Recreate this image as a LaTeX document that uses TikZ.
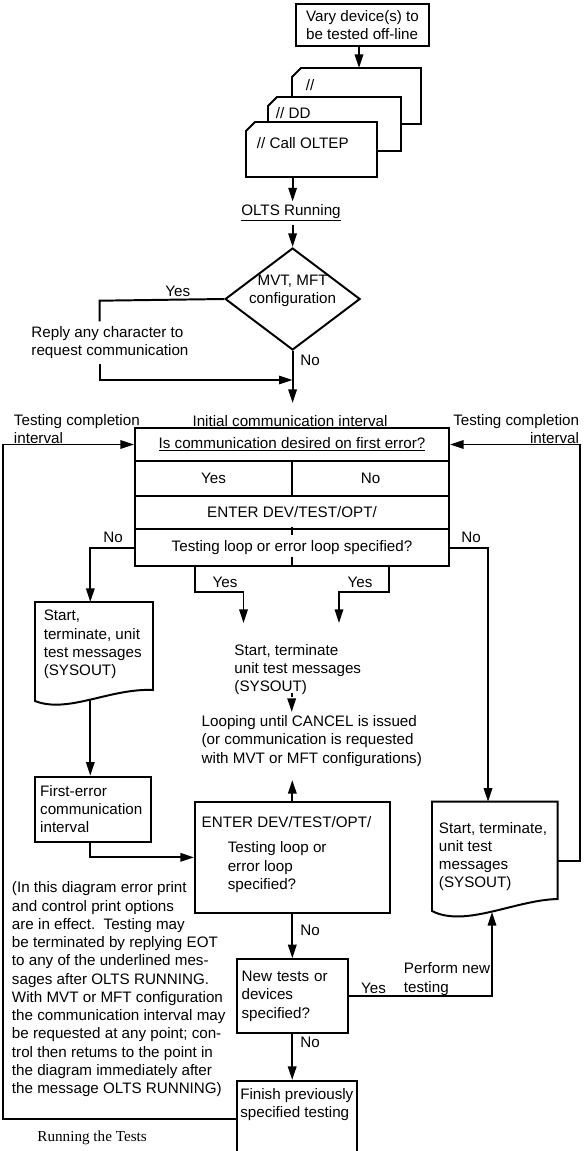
\documentclass[tikz,border=0pt]{standalone}
\usepackage{fontspec}
\setmainfont{Liberation Sans}
\newfontfamily\captionserif{Liberation Serif}
\usetikzlibrary{arrows.meta,shapes.geometric}

\begin{document}
\begin{tikzpicture}[x=0.25mm, y=-0.25mm,
        line width=1.4pt,
        font=\fontsize{10.8}{13}\selectfont,
        flow/.style={-{Triangle[length=3.4mm,width=2.1mm]}},
        proc/.style={draw, rectangle, inner sep=0pt},
        decision/.style={draw, diamond, aspect=1.3, inner sep=0pt,
            minimum width=33.75mm, minimum height=25.5mm},
        txt/.style={inner sep=0pt, align=left, anchor=west},
        lbl/.style={inner sep=0pt}]
        \useasboundingbox (0,0) rectangle (583,1151);

        % Coordinates
        \coordinate (cardtop) at (359,68);
        \coordinate (cardbot) at (292.6,177);
        \coordinate (yesturn) at (99.6,300.7);
        \coordinate (merge) at (292.6,380);
        \coordinate (initin) at (292.6,403);
        \coordinate (yesA) at (195.2,566);
        \coordinate (yesAend) at (243.5,623);
        \coordinate (yesB) at (389,566);
        \coordinate (yesBend) at (339,623);
        \coordinate (docLtop) at (90.3,602);
        \coordinate (docLout) at (90.3,700);
        \coordinate (docRtop) at (488,801.7);
        \coordinate (docRout) at (557.6,860.7);
        \coordinate (docRin) at (492,912);
        \coordinate (loopR) at (580,860.7);
        \coordinate (loopL) at (3,1119.3);
        \coordinate (finishL) at (236.8,1119.3);
        \coordinate (msgend) at (291.7,693);
        \coordinate (loopin) at (291.7,712);
        \coordinate (loopout) at (292.3,780);

        % Job cards
        \node[proc, minimum width=33.25mm, minimum height=10.5mm, align=left] (vary) at (362.5,25) {Vary device(s) to\\be tested off-line};
        \draw[fill=white] (301,68) -- (421,68) -- (421,124) -- (292,124) -- (292,77) -- cycle;
        \draw[fill=white] (277,97) -- (401,97) -- (401,151) -- (268,151) -- (268,106) -- cycle;
        \draw[fill=white] (255,122) -- (377,122) -- (377,177) -- (246,177) -- (246,131) -- cycle;
        \node[txt] (slashA) at (305,85) {//};
        \node[txt] (slashB) at (275,113) {// DD};
        \node[txt] (callcard) at (256,143) {// Call OLTEP};
        \node[lbl, inner sep=1.5pt] (olts) at (291,213) {\underline{OLTS Running}};
        \node[decision] (config) at (292.6,299) {};
        \node[lbl, align=center] (configtxt) at (292.6,291) {MVT, MFT\\configuration};
        \node[lbl] (yes1) at (177.7,291.7) {Yes};
        \node[txt, inner sep=1mm] (reply) at (26.5,342.5) {Reply any character to\\request communication};
        \node[lbl] (no1) at (310,360) {No};

        % Communication interval
        \node[lbl] (initial) at (290,421) {Initial communication interval};
        \node[txt] (doneL) at (13,429) {Testing completion\\interval};
        \node[lbl, align=right, anchor=east] (doneR) at (580,429) {Testing completion\\interval};
        \node[proc, minimum width=78.5mm, minimum height=8.25mm] (ask) at (292,444.5) {\underline{Is communication desired on first error?}};
        \node[proc, minimum width=39.25mm, minimum height=8.675mm] (yescell) at (213.5,478.35) {Yes};
        \node[proc, minimum width=39.25mm, minimum height=8.675mm] (nocell) at (370.5,478.35) {No};
        \node[proc, minimum width=78.5mm, minimum height=8.4mm] (enterA) at (292,512.5) {ENTER DEV/TEST/OPT/};
        \node[proc, minimum width=78.5mm, minimum height=9.175mm] (loopq) at (292,547.65) {Testing loop or error loop specified?};
        \draw (292,526.7) -- (292,535);
        \draw (292,556.7) -- (292,566);
        \node[lbl] (no2) at (113,537) {No};
        \node[lbl] (no3) at (471,537) {No};
        \node[lbl] (yes2) at (225,582) {Yes};
        \node[lbl] (yes3) at (360,582) {Yes};

        % Messages and loops
        \draw (35,602) -- (153,602) -- (153,690) .. controls (110,688) and (68,714) .. (35,701) -- cycle;
        \node[txt] (startL) at (42.8,644.5) {Start,\\terminate, unit\\test messages\\(SYSOUT)};
        \node[txt] (startM) at (233.5,669.7) {Start, terminate\\unit test messages\\(SYSOUT)};
        \node[txt] (looping) at (200.7,741) {Looping until CANCEL is issued\\(or communication is requested\\with MVT or MFT configurations)};
        \node[proc, minimum width=28.8mm, minimum height=16.25mm, text width=26.4mm, inner xsep=1.2mm, align=left] (firsterr) at (93,809.2) {First-error\\communication\\interval};
        \node[proc, minimum width=48.65mm, minimum height=27.83mm] (enterB) at (292.3,857.35) {};
        \node[txt] (enterBa) at (200.7,821.7) {ENTER DEV/TEST/OPT/};
        \node[txt] (enterBb) at (226.8,867.2) {Testing loop or\\error loop\\specified?};
        \draw (432,801.7) -- (557.6,801.7) -- (557.6,899) .. controls (515,900) and (465,928) .. (432,911) -- cycle;
        \node[txt] (startR) at (438,856.6) {Start, terminate,\\unit test\\messages\\(SYSOUT)};
        \node[txt] (note) at (11,989.35) {(In this diagram error print\\and control print options\\are in effect.\ \ Testing may\\be terminated by replying EOT\\to any of the underlined mes-\\sages after OLTS RUNNING.\\With MVT or MFT configuration\\the communication interval may\\be requested at any point; con-\\trol then retums to the point in\\the diagram immediately after\\the message OLTS RUNNING)};
        \node[proc, minimum width=27.7mm, minimum height=18.5mm, text width=25.3mm, inner xsep=1.2mm, align=left] (newq) at (292.2,996.3) {New tests or\\devices\\specified?};
        \node[lbl] (no4) at (310,930) {No};
        \node[lbl] (yes4) at (373.6,988) {Yes};
        \node[txt] (perform) at (403,979) {Perform new\\testing};
        \node[lbl] (no5) at (310,1042.7) {No};
        \node[proc, minimum width=30.03mm, minimum height=21mm] (finish) at (296.85,1123) {};
        \node[txt] (finishtxt) at (239.3,1104.2) {Finish previously\\specified testing};
        \node[txt, font=\captionserif\fontsize{10.8}{12}\selectfont] (caption) at (36.4,1138) {Running the Tests};

        % Drawing
        \draw[flow] (vary.south -| cardtop) -- (cardtop);
        \draw[flow] (cardbot) -- (cardbot |- olts.north);
        \draw[flow] (olts.south -| config.north) -- (config.north);
        \draw (config.west) -- (yesturn) -- (yesturn |- reply.north);
        \draw[flow] (yesturn |- reply.south) |- (merge);
        \draw[flow] (config.south) -- (initin);
        \draw[flow] (finishL) -- (loopL) |- (ask.west);
        \draw[flow] (docRout) -- (loopR) |- (ask.east);
        \draw[flow] (loopq.west) -| (docLtop);
        \draw[flow] (loopq.east) -| (docRtop);
        \draw[flow] (yesA) -- ++(0,25.7) -| (yesAend);
        \draw[flow] (yesB) -- ++(0,25.7) -| (yesBend);
        \draw[flow, dash pattern=on 3pt off 2pt] (msgend) -- (loopin);
        \draw[flow] (enterB.north) -- (loopout);
        \draw[flow] (docLout) -- (docLout |- firsterr.north);
        \draw[flow] (docLout |- firsterr.south) |- (enterB.west);
        \draw[flow] (enterB.south) -- (enterB.south |- newq.north);
        \draw[flow] (newq.east) -| (docRin);
        \draw[flow] (newq.south) -- (newq.south |- finish.north);
        \end{tikzpicture}
\end{document}
